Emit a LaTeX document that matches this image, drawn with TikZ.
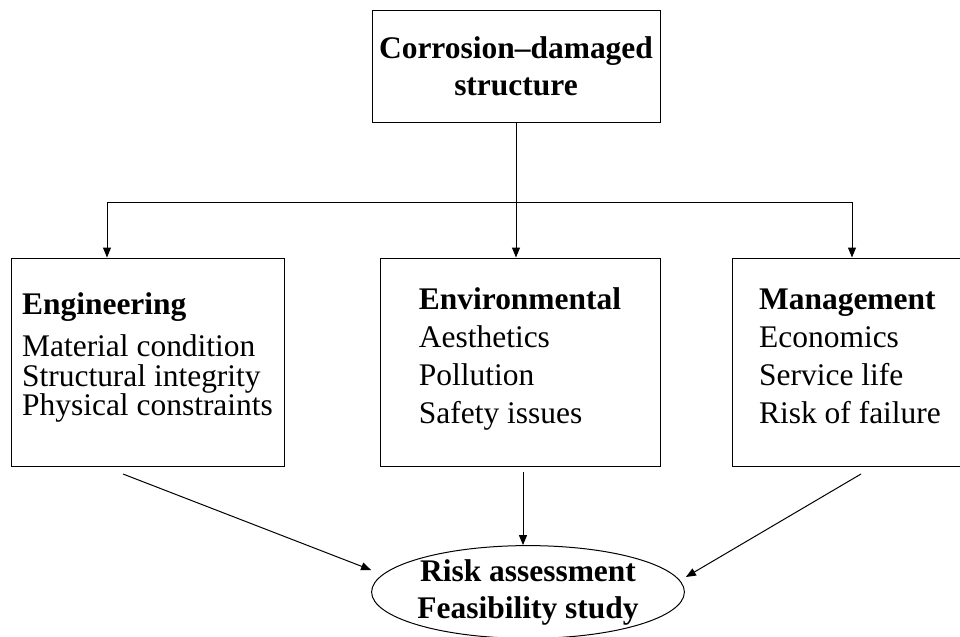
\documentclass[tikz,border=0pt]{standalone}
\usepackage{fontspec}
\setmainfont{Liberation Serif}
\usetikzlibrary{arrows.meta,shapes.geometric,calc}
\tikzset{
	box/.style={draw,line width=0.75pt,inner sep=0pt},
	arr/.style={line width=0.75pt,-{Triangle[length=7.5pt,width=6pt]}},
	heavy/.style={font=\bfseries\fontsize{23.6}{27.75}\selectfont}
}
\begin{document}
\begin{tikzpicture}[x=0.75pt,y=-0.75pt,line width=0.75pt]
		\useasboundingbox (0,0) rectangle (960,636);
		\node[box,heavy,align=center,minimum width=216pt,minimum height=84pt] (dmg) at (516,66) {Corrosion–damaged\\structure};
		\node[box,align=left,minimum width=204.75pt,minimum height=156pt,text depth=12pt,font=\fontsize{23.6}{22}\selectfont] (eng) at (147.5,362)
			{\textbf{Engineering}\\[10pt]Material condition\\Structural integrity\\Physical constraints};
		\node[box,align=left,minimum width=210pt,minimum height=156pt,text depth=9pt,font=\fontsize{23.6}{28.5}\selectfont] (env) at (520,362)
			{\textbf{Environmental}\\Aesthetics\\Pollution\\Safety issues};
		\node[box,align=left,minimum width=177pt,minimum height=156pt,text depth=9pt,font=\fontsize{23.6}{28.5}\selectfont] (mgt) at (850,362)
			{\textbf{Management}\\Economics\\Service life\\Risk of failure};
		\node[draw,ellipse,heavy,align=center,inner sep=0pt,minimum width=234pt,minimum height=69pt] (risk) at (528,592)
			{Risk assessment\\Feasibility study};
		\coordinate (forkl) at (107,202);
		\coordinate (forkr) at (852,202);
		\draw (forkl) -- (forkr);
		\draw[arr] (dmg.south) -- (dmg.south |- env.north);
		\draw[arr] (forkl) -- (forkl |- eng.north);
		\draw[arr] (forkr) -- (forkr |- mgt.north);
		\coordinate (engout) at (123,474);
		\coordinate (envout) at (523,472);
		\coordinate (mgtout) at (861,474);
		\draw[arr] (engout) -- ($(risk.west)+(0,-22)$);
		\draw[arr] (envout) -- (envout |- risk.north);
		\draw[arr] (mgtout) -- ($(risk.east)+(1,-15)$);
	\end{tikzpicture}
\end{document}
